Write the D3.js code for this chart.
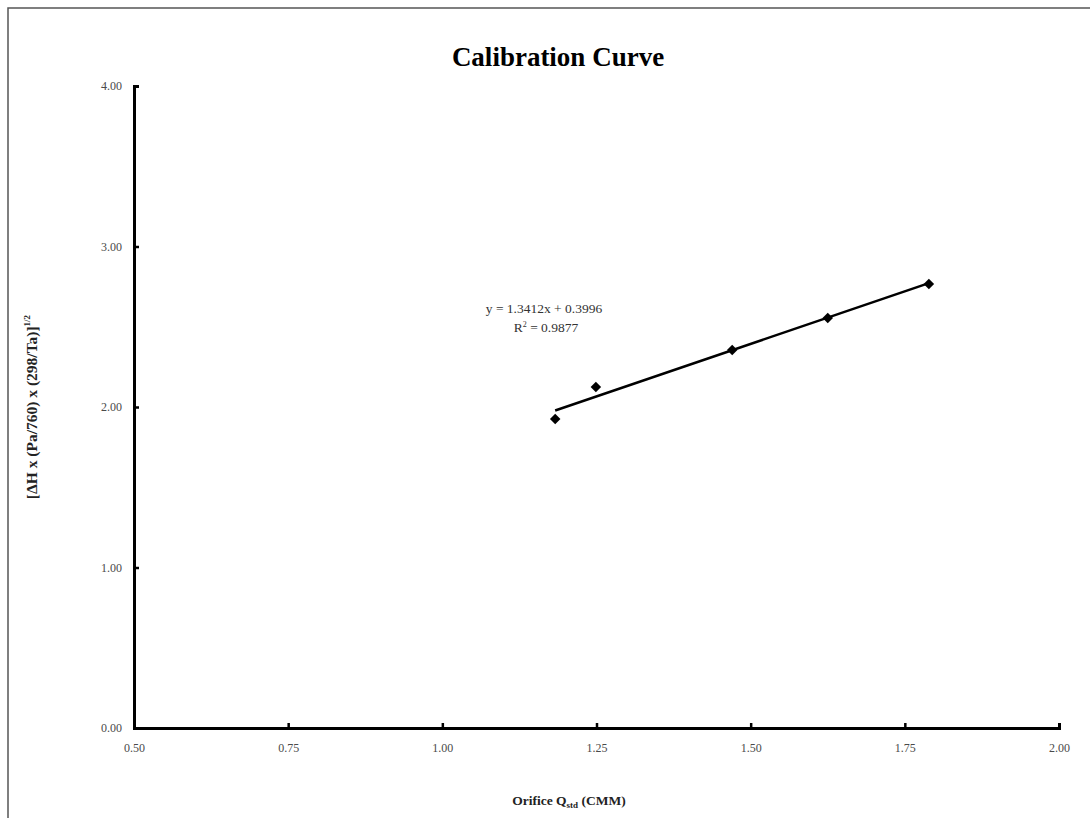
<!DOCTYPE html>
<html>
<head>
    <meta charset="utf-8" />
    <script src="https://cdn.jsdelivr.net/npm/d3@7"></script>
    <style>
        body { margin: 0; background: #fff; }
        text { font-family: "Liberation Serif", "DejaVu Serif", serif; }
    </style>
</head>
<body>
</body>
<script>
    // data
    var qstd = [1.183, 1.249, 1.470, 1.625, 1.789];
    var yval = [1.925, 2.125, 2.355, 2.555, 2.766];
    var eqLabel = "y = 1.3412x + 0.3996";
    var r2Value = "0.9877";
    var xTicks = [0.50, 0.75, 1.00, 1.25, 1.50, 1.75, 2.00];
    var yTicks = [0.00, 1.00, 2.00, 3.00, 4.00];

    var W = 1090, H = 818;
    var svg = d3.select("body").append("svg")
                .attr("width", W)
                .attr("height", H);

    // scanned page frame
    svg.append("rect")
       .attr("x", 8).attr("y", 8)
       .attr("width", W).attr("height", H)
       .style("fill", "none")
       .style("stroke", "#555")
       .style("stroke-width", 1.5);

    var x = d3.scaleLinear().domain([0.5, 2.0]).range([134, 1059]);
    var y = d3.scaleLinear().domain([0, 4]).range([728, 86]);

    // axes
    var xAxis = svg.append("g").attr("transform", "translate(0," + y(0) + ")")
        .call(d3.axisBottom(x).tickValues(xTicks).tickSize(-5).tickPadding(15)
              .tickFormat(d3.format(".2f")));
    var yAxis = svg.append("g").attr("transform", "translate(" + x(0.5) + ",0)")
        .call(d3.axisLeft(y).tickValues(yTicks).tickSize(-5).tickPadding(12)
              .tickFormat(d3.format(".2f")));

    [xAxis, yAxis].forEach(function (g) {
        g.select(".domain").style("stroke", "#000").style("stroke-width", 3);
        g.selectAll(".tick line").style("stroke", "#000").style("stroke-width", 2.5);
        g.selectAll(".tick text")
         .style("font-family", "'Liberation Serif', serif")
         .style("font-size", "12px")
         .style("fill", "#4a4a4a");
    });

    // least squares trendline through the points
    var mx = d3.mean(qstd), my = d3.mean(yval);
    var sxy = d3.sum(qstd, function (d, i) { return (d - mx) * (yval[i] - my); });
    var sxx = d3.sum(qstd, function (d) { return (d - mx) * (d - mx); });
    var b = sxy / sxx, a = my - b * mx;
    var x0 = d3.min(qstd), x1 = d3.max(qstd);
    svg.append("line")
       .attr("x1", x(x0)).attr("y1", y(a + b * x0))
       .attr("x2", x(x1)).attr("y2", y(a + b * x1))
       .style("stroke", "#000")
       .style("stroke-width", 2.5);

    // points (square diamonds)
    var pts = qstd.map(function (d, i) { return { q: d, v: yval[i] }; });
    svg.selectAll("path.pt")
       .data(pts)
       .enter()
       .append("path")
       .attr("class", "pt")
       .attr("d", d3.symbol().type(d3.symbolSquare).size(55))
       .attr("transform", function (d) {
           return "translate(" + x(d.q) + "," + y(d.v) + ") rotate(45)";
       })
       .style("fill", "#000");

    // equation label
    svg.append("text")
       .attr("x", 544).attr("y", 313)
       .attr("text-anchor", "middle")
       .style("font-size", "13.5px")
       .style("fill", "#333")
       .text(eqLabel);
    var r2 = svg.append("text")
       .attr("x", 546).attr("y", 332)
       .attr("text-anchor", "middle")
       .style("font-size", "13.5px")
       .style("fill", "#333");
    r2.append("tspan").text("R");
    r2.append("tspan").attr("dy", -5).style("font-size", "8px").text("2");
    r2.append("tspan").attr("dy", 5).text(" = " + r2Value);

    // title
    svg.append("text")
       .attr("x", 558).attr("y", 66)
       .attr("text-anchor", "middle")
       .style("font-size", "27px")
       .style("font-weight", "bold")
       .text("Calibration Curve");

    // x title
    var xt = svg.append("text")
       .attr("x", 569).attr("y", 805)
       .attr("text-anchor", "middle")
       .style("font-size", "13.5px")
       .style("font-weight", "bold")
       .style("fill", "#222");
    xt.append("tspan").text("Orifice Q");
    xt.append("tspan").attr("dy", 3).style("font-size", "9px").text("std");
    xt.append("tspan").attr("dy", -3).text(" (CMM)");

    // y title
    var yt = svg.append("text")
       .attr("transform", "translate(37," + y(2) + ") rotate(-90)")
       .attr("text-anchor", "middle")
       .style("font-size", "15.5px")
       .style("font-weight", "bold")
       .style("fill", "#222");
    yt.append("tspan").text("[\u0394H x (Pa/760) x (298/Ta)]");
    yt.append("tspan").attr("dy", -7).style("font-size", "9px").text("1/2");
</script>
</html>
